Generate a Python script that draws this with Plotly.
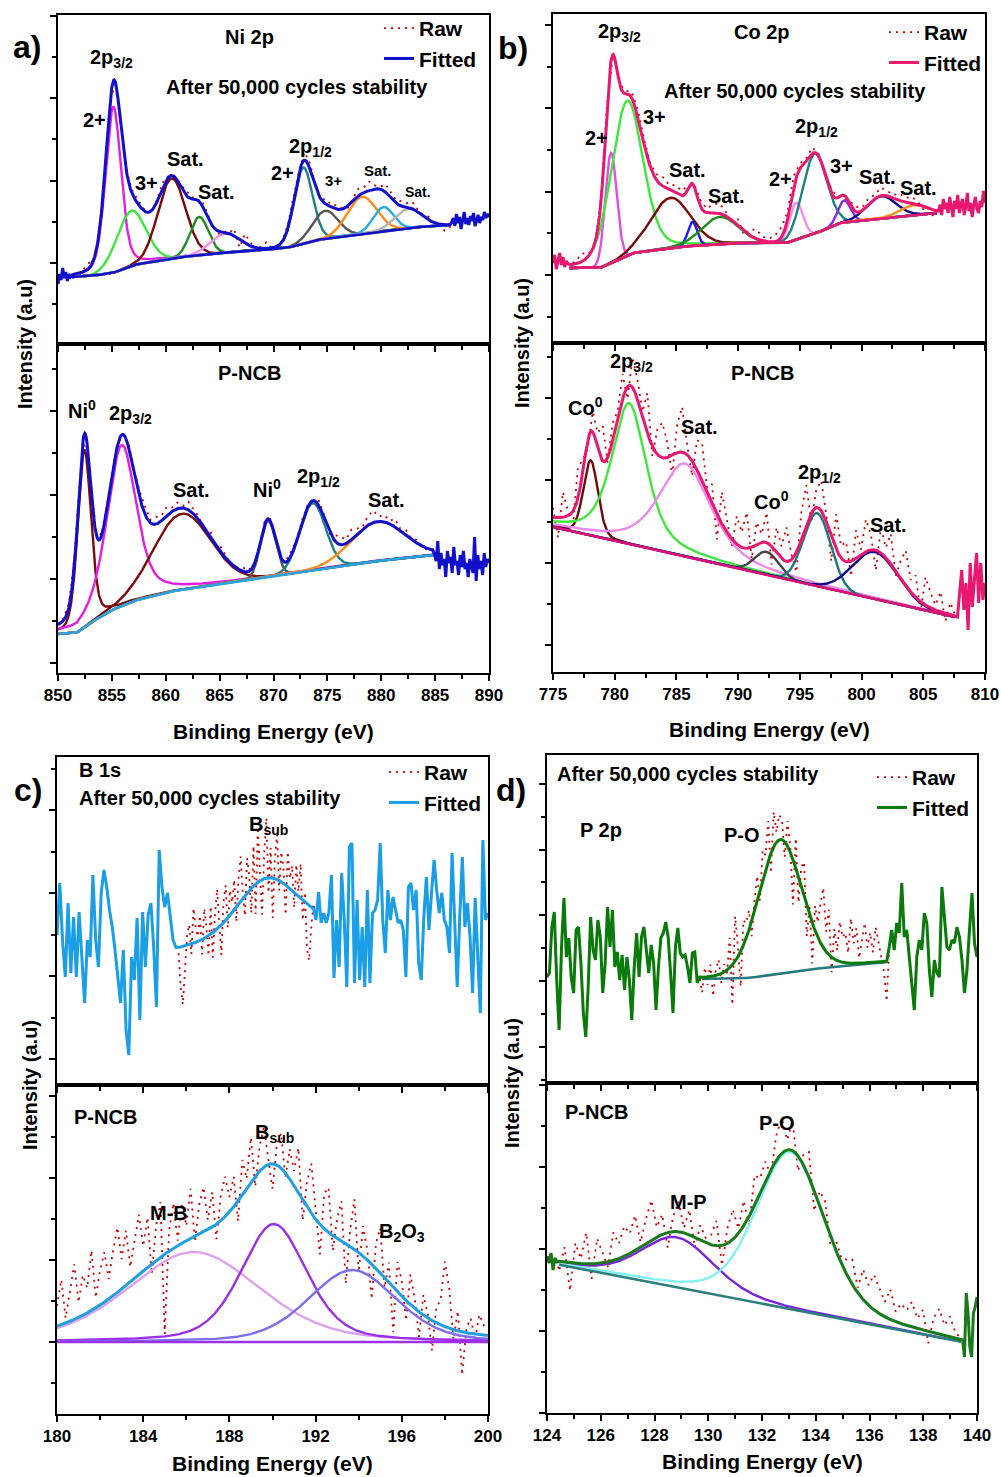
import numpy as np
import plotly.graph_objects as go

# ======================= DATA =======================
# Binding energy in eV, intensity in arbitrary units (a.u.).

# ---------------- a) Ni 2p ----------------
NI_TOP_FIT = [851.3, 886.4]
NI_TOP_BG_E = [851.3, 853.0, 855.1, 857.0, 860.1, 863.0, 866.3, 871.2, 874.0, 878.7, 883.3, 886.4]
NI_TOP_BG_I = [67, 68, 71, 79, 85, 89, 92, 96, 104, 111, 117, 119]
NI_TOP_PEAK_E = [855.13, 856.8, 860.55, 863.1, 865.5, 872.77, 874.8, 878.2, 880.2, 882.5]
NI_TOP_PEAK_H = [166, 55, 80, 38, 19, 76, 28, 37, 24, 19]
NI_TOP_PEAK_FWHM = [1.7, 3.2, 3.0, 2.0, 3.2, 2.0, 2.8, 3.2, 2.2, 3.0]
NI_TOP_PEAK_ETA = [0.3, 0.0, 0.0, 0.0, 0.0, 0.1, 0.0, 0.0, 0.0, 0.0]
NI_TOP_RAW_DEV = [0, -4, 2, 5, 1, -1, 0, 2, -1, 0, 1, 3, 4, 2, 0, -2, 3, 5, 1, 0, 2, 4, 3, -1,
                  5, 2, 0, -3, 1, 0, 7, -8, 9, 4, -3, 2, 6, 0, -2, 1, 4, 5, 2, 8, 6, 3, -1, 5,
                  2, 4, 1, -2, 3, 7, 5, 9, 4, 2, 8, 6, 3, 5, 4, 7, 2, 1, 3, 0, -3, -6, -2]
NI_TOP_EDGE_L = [60, 70, 64, 76, 66, 72, 63, 70, 67]
NI_TOP_EDGE_R = [122, 126, 118, 130, 121, 127, 115, 124, 132, 120, 126, 119, 128, 123, 131,
                 118, 125, 129, 121, 127, 124, 132, 126, 130, 127]

NI_BOT_FIT = [850.0, 884.8]
NI_BOT_BG_E = [850.0, 851.7, 853.0, 854.8, 857.0, 860.1, 866.3, 872.5, 878.7, 884.8]
NI_BOT_BG_I = [39, 40, 50, 62, 72, 81, 91, 101, 111, 118]
NI_BOT_PEAK_E = [852.45, 855.9, 861.5, 869.5, 873.64, 879.7]
NI_BOT_PEAK_H = [177, 161, 76, 56, 67, 39]
NI_BOT_PEAK_FWHM = [1.45, 3.2, 6.2, 1.65, 2.8, 5.8]
NI_BOT_PEAK_ETA = [0.3, 0.45, 0.0, 0.0, 0.0, 0.0]
NI_BOT_RAW_DEV = [0, 2, 4, 6, 1, -2, 0, 2, 1, 3, 2, 0, 1, 4, 2, 6, 8, 3, 7, 5, 9, 4, 6, 2, 8,
                  5, 3, -4, 6, -3, 5, 2, -2, 0, 4, 1, 2, 0, 3, 1, 0, -2, 2, 4, 1, 3, 2, 0, 5,
                  3, -2, 6, 8, 4, 10, 6, 2, 9, 12, 5, 7, 3, 8, 2, 5, 1, 3, 0, -2, 1]
NI_BOT_EDGE_L = []
NI_BOT_EDGE_R = [118, 112, 132, 104, 120, 108, 114, 96, 122, 110, 116, 100, 126, 108, 112, 98,
                 118, 106, 122, 104, 110, 96, 114, 108, 100, 136, 92, 118, 104, 112, 98, 120,
                 106, 114, 110]

# ---------------- b) Co 2p ----------------
CO_TOP_FIT = [776.35, 806.1]
CO_TOP_BG_E = [776.35, 778.8, 781.5, 785.0, 789.6, 793.9, 796.4, 798.2, 801.8, 806.1]
CO_TOP_BG_I = [75, 75, 90, 96, 100, 100, 110, 120, 125, 130]
CO_TOP_PEAK_E = [779.7, 781.0, 784.5, 786.3, 788.5, 794.7, 796.2, 798.6, 801.6, 804.2]
CO_TOP_PEAK_H = [110, 155, 50, 24, 27, 37, 80, 22, 22, 10]
CO_TOP_PEAK_FWHM = [1.1, 3.0, 3.8, 0.9, 3.5, 1.3, 2.3, 1.2, 2.8, 2.5]
CO_TOP_PEAK_ETA = [0.0, 0.2, 0.0, 0.0, 0.0, 0.0, 0.0, 0.0, 0.0, 0.0]
CO_TOP_RAW_DEV = [0, 3, 8, 2, -2, 1, 4, 2, -1, 3, 6, 8, 5, 3, 6, 9, 4, 7, 5, 3, 2, 6, 4, 8, 10,
                  5, -3, 7, -4, 6, 9, 4, 3, 6, 10, 7, 12, 5, 3, 6, 2, -2, 4, 1, -3, 2, 5, 3, 6,
                  4, 8, 5, 3, 7, 4, 6, 2, -4, -8, 0]
CO_TOP_EDGE_L = [80, 88, 74, 84, 90, 78, 86, 76, 82, 79]
CO_TOP_EDGE_R = [132, 138, 128, 144, 134, 140, 130, 146, 136, 126, 142, 134, 148, 130, 138, 144,
                 128, 136, 150, 132, 140, 126, 138, 146, 134, 130, 142, 136, 152, 140]

CO_BOT_FIT = [775.0, 807.6]
CO_BOT_BG_E = [775.0, 807.6]
CO_BOT_BG_I = [145, 55]
CO_BOT_PEAK_E = [778.05, 781.16, 785.7, 792.3, 796.4, 801.1]
CO_BOT_PEAK_H = [75, 141, 93, 23, 73, 47]
CO_BOT_PEAK_FWHM = [1.4, 3.3, 5.0, 2.3, 2.6, 4.3]
CO_BOT_PEAK_ETA = [0.2, 0.6, 0.6, 0.0, 0.0, 0.0]
CO_BOT_RAW_DEV = [10, -20, 25, 5, -15, 30, 12, -8, 20, 15, 35, -5, 18, 8, 25, -12, 30, 20, 5, 40,
                  -10, 25, 35, 15, -20, 28, 45, 10, -15, 30, 38, 5, 20, -25, 32, 12, -8, 28, 15,
                  36, -12, 22, 8, 30, -18, 25, 12, 34, 5, -20, 28, 40, -10, 18, 30, 8, -25, 35,
                  12, 20, -15, 28, 5, 32, 15, -20, 25, 10, 30, -5, 18, 35, 12, 22, -10, 28, 15,
                  5, 20, -8, 12, 0]
CO_BOT_EDGE_L = []
CO_BOT_EDGE_R = [55, 79, 102, 62, 89, 42, 109, 65, 95, 119, 69, 109, 72, 89]

# ---------------- c) B 1s ----------------
B_TOP_FIT = [185.64, 191.9]
B_TOP_BG_E = [185.64, 191.9]
B_TOP_BG_I = [137, 163]
B_TOP_PEAK_E = [189.73]
B_TOP_PEAK_H = [53]
B_TOP_PEAK_FWHM = [3.1]
B_TOP_PEAK_ETA = [0.0]
B_TOP_RAW_DEV = [-5, -40, -58, -25, 10,
                 20, -10, 35, 15, 5, 25, -15, 30, 10, -20,
                 28, -25, 15, 40, 5, -30, 20, 35, -10, 25,
                 10, 30, -15, 25, 45, 5, -20, 35, 15, -25,
                 40, -30, 55, 10, -35, 25, 60, -15, 30, -40,
                 20, 45, -10, 30, 15, -30, 35, 10, 25, -15,
                 30, 5, 35, -20, 10, -45, -55, -20, 5]
B_TOP_EDGE_L = [150, 202, 145, 108, 182, 112, 168, 108, 173, 122, 82, 145, 128, 210, 145, 118,
                192, 215, 198, 175, 158, 135, 105, 82, 135, 55, 30, 128, 105, 167, 65, 173, 118,
                170, 182, 138, 78, 235, 198, 178, 192, 168, 145, 138]
B_TOP_EDGE_R = [165, 193, 162, 172, 162, 172, 210, 107, 165, 118, 212, 165, 98, 238, 242, 102,
                185, 105, 158, 98, 195, 102, 172, 175, 185, 242, 165, 132, 195, 165, 188, 175,
                162, 165, 155, 108, 198, 202, 175, 195, 122, 105, 168, 208, 155, 192, 225, 195,
                172, 192, 165, 158, 132, 232, 165, 98, 168, 228, 158, 182, 148, 92, 187, 128,
                72, 245, 165, 172]

B_BOT_FIT = [180.0, 200.0]
B_BOT_BG_E = [180.0, 200.0]
B_BOT_BG_I = [72, 72]
B_BOT_PEAK_E = [186.35, 190.06, 193.7]
B_BOT_PEAK_H = [90, 118, 72]
B_BOT_PEAK_FWHM = [7.2, 3.6, 4.8]
B_BOT_PEAK_ETA = [0.3, 0.4, 0.3]
B_BOT_RAW_DEV = [20, 45, 5, 30, 55, 15, 40, 25, 60, 10, 35, 50, 20, 45, 65, 30, 55, 15, 40, 60,
                 25, 50, -10, 35, 55, -80, 20, 45, 5, 40, 15, 50, -5, 30, 45, 10, 35, -15, 25, 40,
                 15, 30, -20, 35, 10, 45, -10, 25, 40, 5, -25, 20, 35, -5, 30, 15, 45, -20, 25, 50,
                 10, -30, 35, 45, -15, 20, 40, -40, 15, 50, -20, 30, 10, -35, 25, 45, -10, 20, -45, 30,
                 15, -20, 30, 10, -25, 20, 5, -30, 15, 25, 65, 40, -10, 20, -43, 5, 15, -5, 20, 10, 15]
B_BOT_EDGE_L = []
B_BOT_EDGE_R = []

# ---------------- d) P 2p ----------------
P_TOP_FIT = [129.77, 136.64]
P_TOP_BG_E = [129.77, 131.5, 133.9, 136.64]
P_TOP_BG_I = [104, 105, 114, 121]
P_TOP_PEAK_E = [132.68]
P_TOP_PEAK_H = [134]
P_TOP_PEAK_FWHM = [1.9]
P_TOP_PEAK_ETA = [0.1]
P_TOP_RAW_DEV = [-15, 10, -8, 12, -20, 5, 15, -10, 8, -5,
                 30, -40, 45, 10, -35, 25, 15,
                 20, -15, 10, 25, -10,
                 30, 15, 40, -20, 35, 10, 25,
                 20, -15, 25, 5, -45, 30,
                 -25, 20, 35, -30, 10, -40, 25, 15, 40,
                 60, 20, 45, -15, 30, 10, 40, 25,
                 30, 10, 45, 20, 35, 5, 25, 40, 15, 30, 10, 35, 20, 5, -10, -40]
P_TOP_EDGE_L = [106, 110, 156, 171, 103, 53, 136, 185, 126, 145, 106, 90, 153, 156, 120, 70, 46,
                96, 166, 133, 123, 163, 146, 90, 120, 176, 136, 173, 116, 131, 103, 128, 93, 126,
                103, 63, 116, 150, 106, 146, 156, 136, 110, 138, 120, 73, 116, 145, 150, 161, 146,
                110, 70, 136, 155, 130, 126, 128, 116, 100, 130, 131, 100, 106]
P_TOP_EDGE_R = [136, 153, 133, 160, 150, 200, 146, 153, 126, 100, 73, 126, 143, 133, 170, 160,
                113, 86, 123, 110, 106, 196, 163, 136, 133, 143, 140, 156, 146, 123, 90, 113, 153,
                190, 140, 126]

P_BOT_FIT = [124.45, 139.4]
P_BOT_BG_E = [124.06, 139.4]
P_BOT_BG_I = [150.3, 71.3]
P_BOT_PEAK_E = [128.84, 133.06]
P_BOT_PEAK_H = [50, 157]
P_BOT_PEAK_FWHM = [3.2, 3.0]
P_BOT_PEAK_ETA = [0.3, 0.3]
P_BOT_RAW_DEV = [-10, 15, -28, 20, 5, 31, -15, 25, 10, -5, 28, 15, 30,
                 20, 35, 5, 25, 40, 10, 20, -15, 15, 30, 5, 25, -10, 15, 5,
                 10, 25, -20, 15, 30, 5, 25, -10, 30, 15, 20, -5, 25, 35, 10,
                 30, -15, 10, 25, -20, 15, 20, -10, 10, 5,
                 15, 25, 5, 30, 20, 35, 25, 15, 30, 10,
                 20, 15, 25, 10, 20, -12, 15, 25, 10, 20, 5, 0]
P_BOT_EDGE_L = [157, 150, 160, 143, 155, 151]
P_BOT_EDGE_R = [73, 56, 120, 100, 66, 56, 100, 106, 116]

# ======================= STYLE / LAYOUT =======================
FONT = "Liberation Sans"
FW, FH = 1001, 1477
RAW_COLOR = "#cc0000"


def px(v):
    return v / FW


def py(v):
    return 1 - v / FH


SUBPLOTS = [
    dict(box=(58, 489, 15, 344), xr=[850, 890], xd=5, xm=2.5, ymax=329, yt0=81, ydt=82.5,
         fit=NI_TOP_FIT, bge=NI_TOP_BG_E, bgi=NI_TOP_BG_I, pe=NI_TOP_PEAK_E, ph=NI_TOP_PEAK_H,
         pw=NI_TOP_PEAK_FWHM, peta=NI_TOP_PEAK_ETA, dev=NI_TOP_RAW_DEV, el=NI_TOP_EDGE_L, er=NI_TOP_EDGE_R,
         env="#1010cc", bgc="#1010cc",
         colors=["#e31ee3", "#3ee63e", "#7a0a0a", "#1e8c1e", "#f08ef0", "#1e8080", "#555555",
                 "#ff8c1a", "#22aaee", "#b4b4b4"], labels=False, legend="legend"),
    dict(box=(58, 489, 344, 673), xr=[850, 890], xd=5, xm=2.5, ymax=329, yt0=10, ydt=84,
         fit=NI_BOT_FIT, bge=NI_BOT_BG_E, bgi=NI_BOT_BG_I, pe=NI_BOT_PEAK_E, ph=NI_BOT_PEAK_H,
         pw=NI_BOT_PEAK_FWHM, peta=NI_BOT_PEAK_ETA, dev=NI_BOT_RAW_DEV, el=NI_BOT_EDGE_L, er=NI_BOT_EDGE_R,
         env="#1010cc", bgc="#2aa2e0",
         colors=["#7a0a0a", "#e31ee3", "#7a0a0a", "#555555", "#1e8080", "#ff8c1a"], labels=True, legend=None),
    dict(box=(553, 985, 14, 343), xr=[775, 810], xd=5, xm=2.5, ymax=329, yt0=68, ydt=83.3,
         fit=CO_TOP_FIT, bge=CO_TOP_BG_E, bgi=CO_TOP_BG_I, pe=CO_TOP_PEAK_E, ph=CO_TOP_PEAK_H,
         pw=CO_TOP_PEAK_FWHM, peta=CO_TOP_PEAK_ETA, dev=CO_TOP_RAW_DEV, el=CO_TOP_EDGE_L, er=CO_TOP_EDGE_R,
         env="#e8176f", bgc="#e8176f",
         colors=["#e04ee0", "#3ee63e", "#7a0a0a", "#1a1aff", "#1e8c1e", "#f08ef0", "#1e8080",
                 "#8a2be2", "#0a0a8c", "#ff8c1a"], labels=False, legend="legend2"),
    dict(box=(553, 985, 343, 672), xr=[775, 810], xd=5, xm=2.5, ymax=329, yt0=27, ydt=82.3,
         fit=CO_BOT_FIT, bge=CO_BOT_BG_E, bgi=CO_BOT_BG_I, pe=CO_BOT_PEAK_E, ph=CO_BOT_PEAK_H,
         pw=CO_BOT_PEAK_FWHM, peta=CO_BOT_PEAK_ETA, dev=CO_BOT_RAW_DEV, el=CO_BOT_EDGE_L, er=CO_BOT_EDGE_R,
         env="#e8176f", bgc="#e0107a",
         colors=["#6a0a0a", "#3ee63e", "#ee88ee", "#444444", "#1e7878", "#0a0a8c"], labels=True, legend=None),
    dict(box=(57, 488, 757, 1085), xr=[180, 200], xd=4, xm=2, ymax=328, yt0=26, ydt=83,
         fit=B_TOP_FIT, bge=B_TOP_BG_E, bgi=B_TOP_BG_I, pe=B_TOP_PEAK_E, ph=B_TOP_PEAK_H,
         pw=B_TOP_PEAK_FWHM, peta=B_TOP_PEAK_ETA, dev=B_TOP_RAW_DEV, el=B_TOP_EDGE_L, er=B_TOP_EDGE_R,
         env="#1a9ee6", bgc=None, colors=[None], labels=False, legend="legend3"),
    dict(box=(57, 488, 1085, 1414), xr=[180, 200], xd=4, xm=2, ymax=329, yt0=72.3, ydt=82,
         fit=B_BOT_FIT, bge=B_BOT_BG_E, bgi=B_BOT_BG_I, pe=B_BOT_PEAK_E, ph=B_BOT_PEAK_H,
         pw=B_BOT_PEAK_FWHM, peta=B_BOT_PEAK_ETA, dev=B_BOT_RAW_DEV, el=B_BOT_EDGE_L, er=B_BOT_EDGE_R,
         env="#1e9fe0", bgc="#9b30e8",
         colors=["#dda0ee", "#9b30e8", "#7b6cf0"], labels=True, legend=None),
    dict(box=(547, 977, 755, 1083), xr=[124, 140], xd=2, xm=1, ymax=328, yt0=36.3, ydt=65.7,
         fit=P_TOP_FIT, bge=P_TOP_BG_E, bgi=P_TOP_BG_I, pe=P_TOP_PEAK_E, ph=P_TOP_PEAK_H,
         pw=P_TOP_PEAK_FWHM, peta=P_TOP_PEAK_ETA, dev=P_TOP_RAW_DEV, el=P_TOP_EDGE_L, er=P_TOP_EDGE_R,
         env="#0a7a0a", bgc="#237a80", colors=[None], labels=False, legend="legend4"),
    dict(box=(547, 977, 1083, 1413), xr=[124, 140], xd=2, xm=1, ymax=330, yt0=0, ydt=82,
         fit=P_BOT_FIT, bge=P_BOT_BG_E, bgi=P_BOT_BG_I, pe=P_BOT_PEAK_E, ph=P_BOT_PEAK_H,
         pw=P_BOT_PEAK_FWHM, peta=P_BOT_PEAK_ETA, dev=P_BOT_RAW_DEV, el=P_BOT_EDGE_L, er=P_BOT_EDGE_R,
         env="#1a7a1a", bgc="#2a7f7f", colors=["#7a22dd", "#80f0f0"], labels=True, legend=None),
]

# text labels: (subplot index, text, energy, intensity, font size, xanchor)
LABELS = [
    (0, "Ni 2p", 867.8, 307, 20, "center"),
    (0, "2p<sub>3/2</sub>", 855.0, 286, 20, "center"),
    (0, "After 50,000 cycles stability", 872.15, 257, 20, "center"),
    (0, "2+", 853.35, 224, 20, "center"),
    (0, "3+", 858.2, 161, 20, "center"),
    (0, "Sat.", 861.8, 185, 20, "center"),
    (0, "Sat.", 864.7, 152, 20, "center"),
    (0, "2p<sub>1/2</sub>", 873.4, 197, 20, "center"),
    (0, "2+", 870.8, 171, 20, "center"),
    (0, "3+", 875.55, 164, 15, "center"),
    (0, "Sat.", 879.7, 174, 15, "center"),
    (0, "Sat.", 883.4, 152, 14, "center"),
    (1, "P-NCB", 867.8, 300, 20, "center"),
    (1, "Ni<sup>0</sup>", 852.2, 263, 20, "center"),
    (1, "2p<sub>3/2</sub>", 856.7, 258, 20, "center"),
    (1, "Sat.", 862.4, 183, 20, "center"),
    (1, "Ni<sup>0</sup>", 869.4, 184, 20, "center"),
    (1, "2p<sub>1/2</sub>", 874.15, 195, 20, "center"),
    (1, "Sat.", 880.5, 173, 20, "center"),
    (2, "Co 2p", 791.9, 311, 20, "center"),
    (2, "2p<sub>3/2</sub>", 780.4, 310, 20, "center"),
    (2, "After 50,000 cycles stability", 794.6, 252, 20, "center"),
    (2, "2+", 778.5, 205, 20, "center"),
    (2, "3+", 783.2, 226, 20, "center"),
    (2, "Sat.", 785.9, 173, 20, "center"),
    (2, "Sat.", 789.05, 147, 20, "center"),
    (2, "2p<sub>1/2</sub>", 796.35, 215, 20, "center"),
    (2, "2+", 793.4, 164, 20, "center"),
    (2, "3+", 798.4, 177, 20, "center"),
    (2, "Sat.", 801.3, 166, 20, "center"),
    (2, "Sat.", 804.6, 155, 20, "center"),
    (3, "P-NCB", 792.0, 299, 20, "center"),
    (3, "Co<sup>0</sup>", 777.6, 266, 20, "center"),
    (3, "2p<sub>3/2</sub>", 781.35, 310, 20, "center"),
    (3, "Sat.", 786.9, 245, 20, "center"),
    (3, "Co<sup>0</sup>", 792.7, 172, 20, "center"),
    (3, "2p<sub>1/2</sub>", 796.6, 199, 20, "center"),
    (3, "Sat.", 802.2, 147, 20, "center"),
    (4, "B 1s", 180.93, 315, 20, "left"),
    (4, "After 50,000 cycles stability", 180.93, 287, 20, "left"),
    (4, "B<sub>sub</sub>", 189.8, 260, 20, "center"),
    (5, "P-NCB", 180.7, 297, 20, "left"),
    (5, "B<sub>sub</sub>", 190.1, 281, 20, "center"),
    (5, "M-B", 185.2, 201, 20, "center"),
    (5, "B<sub>2</sub>O<sub>3</sub>", 196.0, 182, 20, "center"),
    (6, "After 50,000 cycles stability", 124.3, 309, 20, "left"),
    (6, "P 2p", 126.0, 253, 20, "center"),
    (6, "P-O", 131.25, 248, 20, "center"),
    (7, "P-NCB", 124.6, 301, 20, "left"),
    (7, "P-O", 132.56, 290, 20, "center"),
    (7, "M-P", 129.27, 211, 20, "center"),
]

PANEL_LETTERS = [("a)", 27, 47), ("b)", 513, 48), ("c)", 28, 790), ("d)", 511, 790)]
Y_TITLES = [(25, 344), (522, 343), (30, 1085), (512, 1083)]
X_TITLES = [(273, 731), (769, 729), (272, 1463), (762, 1461)]
LEGEND_POS = {"legend": (379, 8), "legend2": (884, 12), "legend3": (384, 752), "legend4": (872, 757)}


def pv(x, c, h, w, eta):
    u = ((x - c) / w) ** 2
    return h * ((1 - eta) * np.exp(-4 * np.log(2) * u) + eta / (1 + 4 * u))


fig = go.Figure()
layout_axes = {}

for i, sp in enumerate(SUBPLOTS):
    k = "" if i == 0 else str(i + 1)
    xa, ya = "x" + k, "y" + k
    lo, hi = sp["fit"]
    bge, bgi = np.array(sp["bge"], float), np.array(sp["bgi"], float)

    def bg(x):
        return np.interp(x, bge, bgi)

    def envelope(x):
        y = bg(x)
        for c, h, w, e in zip(sp["pe"], sp["ph"], sp["pw"], sp["peta"]):
            y = y + pv(x, c, h, w, e)
        return y

    xf = np.linspace(lo, hi, 700)
    xr_raw = np.linspace(lo, hi, len(sp["dev"]))
    yr_raw = envelope(xr_raw) + np.array(sp["dev"], float)

    el = np.array(sp["el"], float)
    er = np.array(sp["er"], float)
    xl = np.linspace(sp["xr"][0], lo, len(el), endpoint=False) if len(el) else np.array([])
    xrr = np.linspace(hi, sp["xr"][1], len(er) + 1)[1:] if len(er) else np.array([])

    leg = sp["legend"]
    fig.add_trace(go.Scatter(
        x=np.concatenate([xl, xr_raw, xrr]), y=np.concatenate([el, yr_raw, er]),
        mode="lines", line=dict(color=RAW_COLOR, width=1.8, dash="2px,5px"),
        name="Raw", xaxis=xa, yaxis=ya, showlegend=leg is not None,
        legend=leg if leg else "legend", hoverinfo="skip"))
    for c, h, w, e, col in zip(sp["pe"], sp["ph"], sp["pw"], sp["peta"], sp["colors"]):
        if col is None:
            continue
        fig.add_trace(go.Scatter(
            x=xf, y=bg(xf) + pv(xf, c, h, w, e), mode="lines",
            line=dict(color=col, width=2.4), xaxis=xa, yaxis=ya, showlegend=False, hoverinfo="skip"))
    if sp["bgc"]:
        fig.add_trace(go.Scatter(
            x=xf, y=bg(xf), mode="lines", line=dict(color=sp["bgc"], width=2.6),
            xaxis=xa, yaxis=ya, showlegend=False, hoverinfo="skip"))
    fig.add_trace(go.Scatter(
        x=np.concatenate([xl, xf, xrr]), y=np.concatenate([el, envelope(xf), er]),
        mode="lines", line=dict(color=sp["env"], width=3),
        name="Fitted", xaxis=xa, yaxis=ya, showlegend=leg is not None,
        legend=leg if leg else "legend", hoverinfo="skip"))

    x0, x1, y0, y1 = sp["box"]
    layout_axes["xaxis" + k] = dict(
        domain=[px(x0), px(x1)], range=sp["xr"], anchor=ya, showline=True, linecolor="black",
        linewidth=2, mirror=True, ticks="outside", ticklen=6, tickwidth=2, tickcolor="black",
        tick0=sp["xr"][0], dtick=sp["xd"],
        minor=dict(ticks="outside", ticklen=4, tickwidth=1.5, tickcolor="black",
                   tick0=sp["xr"][0], dtick=sp["xm"]),
        showticklabels=sp["labels"],
        tickfont=dict(family=FONT, size=17, color="black", weight="bold"),
        showgrid=False, zeroline=False, automargin=False)
    layout_axes["yaxis" + k] = dict(
        domain=[py(y1), py(y0)], range=[0, sp["ymax"]], anchor=xa, showline=True, linecolor="black",
        linewidth=2, mirror=True, ticks="outside", ticklen=6, tickwidth=2, tickcolor="black",
        tick0=sp["yt0"], dtick=sp["ydt"],
        minor=dict(ticks="outside", ticklen=4, tickwidth=1.5, tickcolor="black",
                   tick0=sp["yt0"] + sp["ydt"] / 2, dtick=sp["ydt"]),
        showticklabels=False, showgrid=False, zeroline=False, automargin=False)

annotations = []
for idx, text, xv, yv, size, anchor in LABELS:
    k = "" if idx == 0 else str(idx + 1)
    annotations.append(dict(text=text, x=xv, y=yv, xref="x" + k, yref="y" + k, showarrow=False,
                            xanchor=anchor, yanchor="middle",
                            font=dict(family=FONT, size=size, color="black", weight="bold")))
for t, xp, yp in PANEL_LETTERS:
    annotations.append(dict(text=t, x=px(xp), y=py(yp), xref="paper", yref="paper", showarrow=False,
                            xanchor="center", yanchor="middle",
                            font=dict(family=FONT, size=32, color="black", weight="bold")))
for xp, yp in Y_TITLES:
    annotations.append(dict(text="Intensity (a.u)", x=px(xp), y=py(yp), xref="paper", yref="paper",
                            showarrow=False, textangle=-90, xanchor="center", yanchor="middle",
                            font=dict(family=FONT, size=20, color="black", weight="bold")))
for xp, yp in X_TITLES:
    annotations.append(dict(text="Binding Energy (eV)", x=px(xp), y=py(yp), xref="paper", yref="paper",
                            showarrow=False, xanchor="center", yanchor="middle",
                            font=dict(family=FONT, size=21, color="black", weight="bold")))

legends = {}
for name, (lx, ly) in LEGEND_POS.items():
    legends[name] = dict(x=px(lx), y=py(ly), xanchor="left", yanchor="top", bgcolor="rgba(0,0,0,0)",
                         borderwidth=0, tracegroupgap=0, traceorder="normal",
                         font=dict(family=FONT, size=21, color="black", weight="bold"))

fig.update_layout(
    width=FW, height=FH, margin=dict(l=0, r=0, t=0, b=0, pad=0, autoexpand=False),
    paper_bgcolor="white", plot_bgcolor="white", showlegend=True,
    annotations=annotations, **layout_axes, **legends)

fig.write_html("out.html")
